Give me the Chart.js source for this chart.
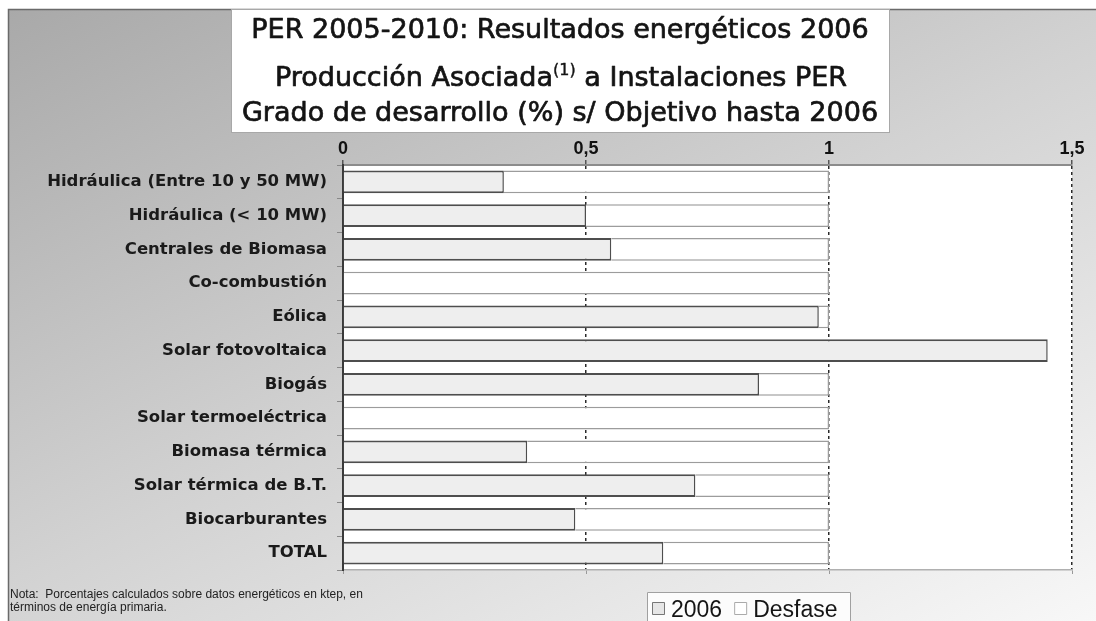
<!DOCTYPE html>
<html><head><meta charset="utf-8">
<script src="https://cdn.jsdelivr.net/npm/chart.js@4.4.1/dist/chart.umd.min.js"></script>
<style>html,body{margin:0;padding:0;background:#fff;}canvas{display:block}</style>
</head><body>
<canvas id="c" width="1096" height="621"></canvas>
<script>
const categories = ['Hidráulica (Entre 10 y 50 MW)','Hidráulica (< 10 MW)','Centrales de Biomasa','Co-combustión','Eólica','Solar fotovoltaica','Biogás','Solar termoeléctrica','Biomasa térmica','Solar térmica de B.T.','Biocarburantes','TOTAL'];
const values2006 = [0.331, 0.5, 0.552, 0, 0.979, 1.45, 0.856, 0, 0.379, 0.725, 0.478, 0.659];
const desfase    = [0.669, 0.5, 0.448, 1, 0.021, 0, 0.144, 1, 0.621, 0.275, 0.522, 0.341];
const xTicks = [0, 0.5, 1, 1.5];
const seriesNames = ['2006', 'Desfase'];
const titleLine1 = 'PER 2005-2010: Resultados energéticos 2006';
const titleLine2a = 'Producción Asociada';
const titleLine2sup = '(1)';
const titleLine2b = ' a Instalaciones PER';
const titleLine3 = 'Grado de desarrollo (%) s/ Objetivo hasta 2006';
const noteLines = ['Nota:  Porcentajes calculados sobre datos energéticos en ktep, en', 'términos de energía primaria.'];

function heavyText(ctx, t, x, y) {
  ctx.fillText(t, x, y);
  ctx.strokeText(t, x, y);
}

const decor = {
  id: 'decor',
  beforeDraw(chart) {
    const ctx = chart.ctx, W = chart.width, H = chart.height, a = chart.chartArea;
    ctx.save();
    ctx.fillStyle = '#fff'; ctx.fillRect(0, 0, W, H);
    const g = ctx.createLinearGradient(0, 0, 470, 940);
    g.addColorStop(0, '#a8a8a8'); g.addColorStop(0.5, '#d2d2d2'); g.addColorStop(1, '#f8f8f8');
    ctx.fillStyle = g; ctx.fillRect(8, 9, W - 8, H - 9);
    ctx.strokeStyle = '#6a6a6a'; ctx.lineWidth = 1.5;
    ctx.beginPath(); ctx.moveTo(8.5, H); ctx.lineTo(8.5, 9.5); ctx.lineTo(W, 9.5); ctx.stroke();
    // plot background
    ctx.fillStyle = '#fff'; ctx.fillRect(a.left, a.top, a.right - a.left, a.bottom - a.top);
    // title box
    ctx.fillStyle = '#fff'; ctx.fillRect(231, 9, 659, 124);
    ctx.strokeStyle = '#a8a8a8'; ctx.lineWidth = 1; ctx.strokeRect(231.5, 9.5, 658, 123);
    ctx.fillStyle = '#141414';
    ctx.strokeStyle = '#141414';
    ctx.lineWidth = 0.7;
    ctx.lineJoin = 'round';
    ctx.textBaseline = 'alphabetic';
    ctx.font = '27px "DejaVu Sans"';
    ctx.textAlign = 'center';
    heavyText(ctx, titleLine1, 560, 38);
    heavyText(ctx, titleLine3, 560, 121);
    ctx.textAlign = 'left';
    const w1 = ctx.measureText(titleLine2a).width;
    const w3 = ctx.measureText(titleLine2b).width;
    ctx.font = '16px "DejaVu Sans"';
    const w2 = ctx.measureText(titleLine2sup).width;
    let x = 561 - (w1 + w2 + w3) / 2;
    ctx.font = '27px "DejaVu Sans"';
    heavyText(ctx, titleLine2a, x, 86); x += w1;
    ctx.font = '16px "DejaVu Sans"';
    ctx.lineWidth = 0.4;
    heavyText(ctx, titleLine2sup, x, 75); x += w2;
    ctx.lineWidth = 0.7;
    ctx.font = '27px "DejaVu Sans"';
    heavyText(ctx, titleLine2b, x, 86);
    // note
    ctx.font = '12px "Liberation Sans"';
    ctx.fillStyle = '#222';
    ctx.fillText(noteLines[0], 10, 598);
    ctx.fillText(noteLines[1], 10, 611);
    // legend
    const ds = chart.data.datasets;
    ctx.fillStyle = '#fcfcfc'; ctx.fillRect(647, 592, 204, 40);
    ctx.strokeStyle = '#a0a0a0'; ctx.lineWidth = 1; ctx.strokeRect(647.5, 592.5, 203, 40);
    ctx.font = '23px "Liberation Sans"';
    let lx = 652;
    ds.forEach((d, i) => {
      ctx.fillStyle = i === 0 ? '#e6e6e6' : '#fff';
      ctx.fillRect(lx, 602, 13, 13);
      ctx.strokeStyle = i === 0 ? '#777' : '#aaa'; ctx.lineWidth = 1;
      ctx.strokeRect(lx + 0.5, 602.5, 12, 12);
      ctx.fillStyle = '#151515';
      ctx.fillText(d.label, lx + 19, 617);
      lx += 19 + ctx.measureText(d.label).width + 12;
    });
    ctx.restore();
  }
};

new Chart(document.getElementById('c'), {
  type: 'bar',
  data: {
    labels: categories,
    datasets: [
      { label: seriesNames[0], data: values2006, backgroundColor: '#eeeeee', borderColor: '#4e4e4e',
        borderWidth: {top: 2, bottom: 2, right: 1.5, left: 0}, borderSkipped: false, xAxisID: 'x' },
      { label: seriesNames[1], data: desfase, backgroundColor: '#ffffff', borderColor: '#9c9c9c',
        borderWidth: {top: 1.5, bottom: 1.5, right: 1.5, left: 0}, borderSkipped: false, xAxisID: 'x' }
    ]
  },
  options: {
    indexAxis: 'y',
    responsive: false,
    animation: false,
    devicePixelRatio: 1,
    barPercentage: 0.68,
    categoryPercentage: 1,
    layout: { padding: { left: 0, right: 24, top: 0, bottom: 0 } },
    plugins: { legend: { display: false }, tooltip: { enabled: false }, title: { display: false } },
    scales: {
      x: {
        position: 'top', stacked: true, min: 0, max: 1.5,
        afterBuildTicks: s => { s.ticks = xTicks.map(v => ({ value: v })); },
        afterFit: s => { s.height = 165; },
        ticks: { padding: 0, color: '#111', font: { family: '"Liberation Sans"', size: 18, weight: 'bold' },
                 callback: v => String(v).replace('.', ','), maxRotation: 0 },
        grid: { color: c => (c.tick && c.tick.value === 0) ? 'rgba(0,0,0,0)' : '#2a2a2a', lineWidth: 1.5,
                tickLength: 5, tickColor: '#555', tickWidth: 1.5, tickBorderDash: [] },
        border: { display: true, color: '#8c8c8c', width: 2, dash: [3, 3] }
      },
      x2: {
        position: 'bottom', type: 'linear', min: 0, max: 1.5,
        afterBuildTicks: s => { s.ticks = xTicks.map(v => ({ value: v })); },
        afterFit: s => { s.height = 51; },
        ticks: { display: false },
        grid: { drawOnChartArea: false, tickLength: 4, tickColor: '#999', tickWidth: 1 },
        border: { display: true, color: '#b0b0b0', width: 1.5 }
      },
      y: {
        stacked: true,
        afterFit: s => { s.width = 343; },
        ticks: { padding: 10, color: '#1a1a1a', font: { family: '"DejaVu Sans"', size: 16.5, weight: 'bold' } },
        grid: { offset: true, drawOnChartArea: false, tickLength: 6, tickColor: '#888', tickWidth: 1 },
        border: { display: true, color: '#3a3a3a', width: 2 }
      }
    }
  },
  plugins: [decor]
});
</script>
</body></html>
